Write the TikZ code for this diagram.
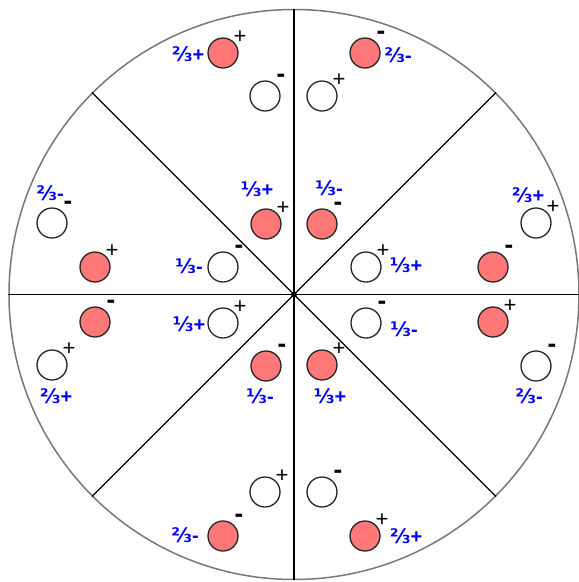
\documentclass[tikz,border=0pt]{standalone}
\usepackage{fontspec}
\setmainfont{Liberation Sans}
\newfontfamily\fracfont{DejaVu Sans}
\definecolor{quarkred}{RGB}{255,120,120}
\definecolor{ringgray}{RGB}{120,120,120}
\tikzset{
  particle/.style={circle, draw=black!85, line width=1.3pt, minimum size=30pt, inner sep=0pt},
  qred/.style={particle, fill=quarkred},
  qwht/.style={particle, fill=white},
  sgn/.style={inner sep=0pt, font=\fontsize{22}{22}\selectfont},
  msgn/.style={inner sep=0pt, text height=7.8pt, text depth=-5.2pt, font=\bfseries\fontsize{26}{26}\selectfont},
  lbl/.style={inner sep=0pt, text=blue, font=\bfseries\fontsize{20}{20}\selectfont},
  spoke/.style={draw=black, line width=1.4pt},
}
\newcommand{\third}{{\fracfont\char"2153}}
\newcommand{\twothirds}{{\fracfont\char"2154}}
\begin{document}
\begin{tikzpicture}[x=1pt,y=-1pt]
\useasboundingbox (0,0) rectangle (579,582);
\coordinate (O) at (294,294.5);
\node[circle, draw=ringgray, line width=1.5pt, minimum size=570pt, inner sep=0pt] (ring) at (O) {};
\draw[spoke] (ring.north) -- (ring.south);
\draw[spoke] (ring.west) -- (ring.east);
\draw[spoke, line width=1.3pt] (O) -- (ring.north west);
\draw[spoke, line width=1.3pt] (O) -- (ring.north east);
\draw[spoke, line width=1.3pt] (O) -- (ring.south west);
\draw[spoke, line width=1.3pt] (O) -- (ring.south east);
\fill (O) circle (3pt);

% top-left sector
\node[qred] (p1) at (223,53) {};
\node[qwht] (p2) at (265,96) {};
\node[sgn] at ([shift={(17,-16)}]p1.center) {+};
\node[msgn] at ([shift={(16,-17)}]p2.center) {-};
\node[lbl] at (188,54) {\twothirds+};
% top-right sector
\node[qred] (p3) at (365,53) {};
\node[qwht] (p4) at (322,96) {};
\node[msgn] at ([shift={(16,-17)}]p3.center) {-};
\node[sgn] at ([shift={(17,-16)}]p4.center) {+};
\node[lbl] at (398,55) {\twothirds-};
% left-upper sector
\node[qwht] (p5) at (52,223) {};
\node[qred] (p6) at (95,267) {};
\node[msgn] at ([shift={(16,-17)}]p5.center) {-};
\node[sgn] at ([shift={(17,-16)}]p6.center) {+};
\node[lbl] at (50,193) {\twothirds-};
% inner upper-left
\node[qred] (p7) at (266,224) {};
\node[qwht] (p8) at (223,267) {};
\node[sgn] at ([shift={(17,-16)}]p7.center) {+};
\node[msgn] at ([shift={(16,-17)}]p8.center) {-};
\node[lbl] at (257,189) {\third+};
\node[lbl] at (189,266) {\third-};
% inner upper-right
\node[qred] (p9) at (322,224) {};
\node[qwht] (p10) at (366,267) {};
\node[msgn] at ([shift={(16,-17)}]p9.center) {-};
\node[sgn] at ([shift={(17,-16)}]p10.center) {+};
\node[lbl] at (329,188) {\third-};
\node[lbl] at (406,265) {\third+};
% right-upper sector
\node[qwht] (p11) at (536,223) {};
\node[qred] (p12) at (493,267) {};
\node[sgn] at ([shift={(17,-16)}]p11.center) {+};
\node[msgn] at ([shift={(16,-17)}]p12.center) {-};
\node[lbl] at (528,195) {\twothirds+};
% left-lower sector
\node[qred] (p13) at (95,322) {};
\node[qwht] (p14) at (52,365) {};
\node[msgn] at ([shift={(16,-17)}]p13.center) {-};
\node[sgn] at ([shift={(17,-16)}]p14.center) {+};
\node[lbl] at (56,396) {\twothirds+};
% inner lower-left
\node[qwht] (p15) at (223,323) {};
\node[qred] (p16) at (266,366) {};
\node[sgn] at ([shift={(17,-16)}]p15.center) {+};
\node[msgn] at ([shift={(16,-17)}]p16.center) {-};
\node[lbl] at (189,324) {\third+};
\node[lbl] at (260,396) {\third-};
% inner lower-right
\node[qwht] (p17) at (366,323) {};
\node[qred] (p18) at (322,365) {};
\node[msgn] at ([shift={(16,-17)}]p17.center) {-};
\node[sgn] at ([shift={(17,-16)}]p18.center) {+};
\node[lbl] at (404,329) {\third-};
\node[lbl] at (330,396) {\third+};
% right-lower sector
\node[qred] (p19) at (493,322) {};
\node[qwht] (p20) at (536,366) {};
\node[sgn] at ([shift={(17,-16)}]p19.center) {+};
\node[msgn] at ([shift={(16,-17)}]p20.center) {-};
\node[lbl] at (529,396) {\twothirds-};
% bottom-left sector
\node[qwht] (p21) at (265,492) {};
\node[qred] (p22) at (223,536) {};
\node[sgn] at ([shift={(17,-16)}]p21.center) {+};
\node[msgn] at ([shift={(16,-17)}]p22.center) {-};
\node[lbl] at (185,535) {\twothirds-};
% bottom-right sector
\node[qwht] (p23) at (322,492) {};
\node[qred] (p24) at (365,536) {};
\node[msgn] at ([shift={(16,-17)}]p23.center) {-};
\node[sgn] at ([shift={(17,-16)}]p24.center) {+};
\node[lbl] at (406,536) {\twothirds+};
\end{tikzpicture}
\end{document}
